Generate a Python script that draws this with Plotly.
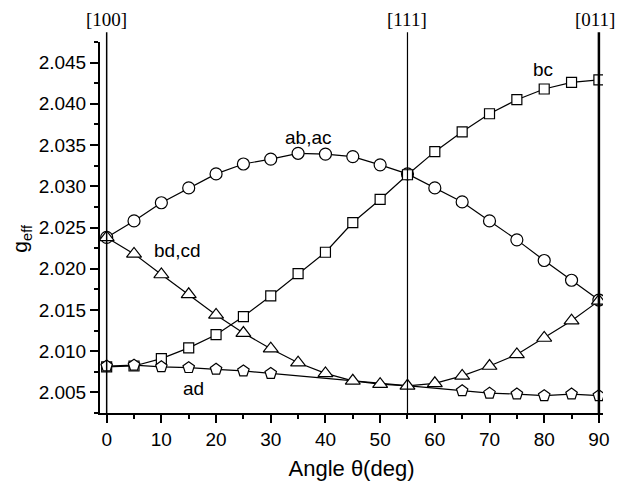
import plotly.graph_objects as go

angles = [0, 5, 10, 15, 20, 25, 30, 35, 40, 45, 50, 55, 60, 65, 70, 75, 80, 85, 90]
ab_ac = [2.0238, 2.0258, 2.0280, 2.0298, 2.0315, 2.0327, 2.0333, 2.0340, 2.0339, 2.0336,
         2.0326, 2.0315, 2.0298, 2.0281, 2.0258, 2.0235, 2.0210, 2.0186, 2.0162]
bc = [2.0081, 2.0082, 2.0091, 2.0104, 2.0120, 2.0142, 2.0167, 2.0194, 2.0220, 2.0256,
      2.0284, 2.0314, 2.0342, 2.0366, 2.0388, 2.0405, 2.0418, 2.0426, 2.0429]
bd_cd = [2.0238, 2.0218, 2.0193, 2.0169, 2.0144, 2.0122, 2.0103, 2.0086, 2.0073, 2.0064,
         2.0060, 2.0058, 2.0061, 2.0070, 2.0082, 2.0096, 2.0116, 2.0137, 2.0161]
ad_angles = [0, 5, 10, 15, 20, 25, 30, 65, 70, 75, 80, 85, 90]
ad = [2.0082, 2.0083, 2.0081, 2.0080, 2.0078, 2.0076, 2.0073,
      2.0052, 2.0049, 2.0048, 2.0046, 2.0048, 2.0046]

directions = ["[100]", "[111]", "[011]"]
direction_angles = [0, 55, 90]

labels = ["ab,ac", "bc", "bd,cd", "ad"]
label_x = [36.8, 79.8, 12.9, 15.9]
label_y = [2.0359, 2.0442, 2.0222, 2.0055]

fig = go.Figure()

def add_series(x, y, symbol, size):
    fig.add_trace(go.Scatter(
        x=x, y=y, mode="lines+markers",
        line=dict(color="black", width=1.2),
        marker=dict(symbol=symbol, size=size, color="white",
                    line=dict(color="black", width=1.2)),
        showlegend=False))

add_series(angles, ab_ac, "circle", 12)
add_series(angles, bc, "square", 10)
add_series(ad_angles, ad, "pentagon", 12)
add_series(angles, bd_cd, "triangle-up", 13)

line_widths = [1.5, 1.2, 2.5]
label_shift = [0, 0, -4]
for ang, txt, lw, sh in zip(direction_angles, directions, line_widths, label_shift):
    fig.add_shape(type="line", xref="x", yref="paper", x0=ang, x1=ang, y0=0, y1=1.026,
                  line=dict(color="black", width=lw))
    fig.add_annotation(x=ang, y=1.026, xref="x", yref="paper", text=txt, showarrow=False,
                       yanchor="bottom", xshift=sh,
                       font=dict(family="Liberation Serif", size=19, color="black"))

for t, x, y in zip(labels, label_x, label_y):
    fig.add_annotation(x=x, y=y, text=t, showarrow=False,
                       font=dict(family="Liberation Sans", size=19, color="black"))

# y-axis title placed as rotated annotation
fig.add_annotation(x=-0.157, y=0.47, xref="paper", yref="paper", text="g<sub>eff</sub>",
                   showarrow=False, textangle=-90, xanchor="center", yanchor="middle",
                   font=dict(family="Liberation Sans", size=21, color="black"))

fig.update_layout(
    width=616, height=477,
    margin=dict(l=92, r=21, t=34, b=72),
    paper_bgcolor="white", plot_bgcolor="white",
    font=dict(family="Liberation Sans", color="black"),
    xaxis=dict(range=[-1.22, 90.75], tickmode="linear", tick0=0, dtick=10, automargin=False,
               showgrid=False, zeroline=False, showline=True, linewidth=2, linecolor="black",
               ticks="outside", ticklen=8, tickwidth=1.5, tickcolor="black",
               tickfont=dict(size=19, family="Liberation Sans"),
               minor=dict(dtick=5, tick0=0, ticks="outside", ticklen=4, tickwidth=1.5, tickcolor="black", showgrid=False),
               title=dict(text="Angle θ(deg)", font=dict(size=22, family="Liberation Sans"), standoff=12)),
    yaxis=dict(range=[2.0025, 2.0475], tickmode="linear", tick0=2.0, dtick=0.005, tickformat=".3f", automargin=False,
               showgrid=False, zeroline=False, showline=True, linewidth=2, linecolor="black",
               ticks="outside", ticklen=8, tickwidth=1.5, tickcolor="black",
               tickfont=dict(size=19, family="Liberation Sans"),
               minor=dict(dtick=0.0025, tick0=2.0, ticks="outside", ticklen=4, tickwidth=1.5, tickcolor="black", showgrid=False)),
)

fig.write_html("out.html")
